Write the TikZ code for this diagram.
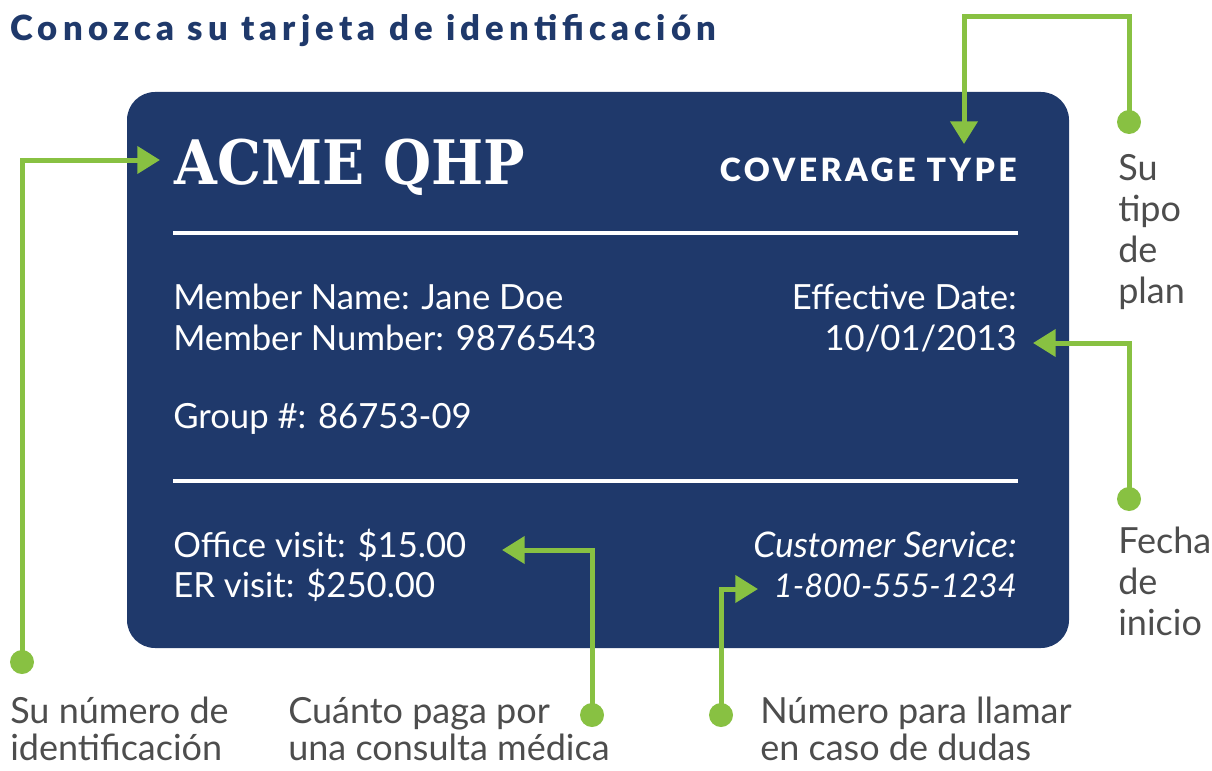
\documentclass[tikz,border=0pt]{standalone}
\usepackage{fontspec}
\setmainfont{Lato}
\newfontfamily\titlefont[LetterSpace=15]{Lato Black}
\newfontfamily\slabfont[FakeStretch=0.9]{DejaVu Serif}
\newfontfamily\capsfont[LetterSpace=11]{Lato Black}
\usetikzlibrary{arrows.meta}

\definecolor{cardblue}{RGB}{31,57,107}
\definecolor{pingreen}{RGB}{136,193,66}
\definecolor{notegray}{RGB}{77,77,77}

\tikzset{
  cardtext/.style={text=white, inner sep=0pt, font=\fontsize{26}{31}\selectfont},
  notetext/.style={text=notegray, inner sep=0pt, anchor=base west, align=left,
    font=\fontsize{27}{27.75}\selectfont},
  sidenote/.style={notetext, font=\fontsize{27}{30.75}\selectfont},
  pin/.style={circle, fill=pingreen, minimum size=18pt, inner sep=0pt},
  pointer/.style={draw=pingreen, line width=3.75pt,
    -{Triangle[length=17pt 0 0, width=20pt 0 0]}},
  rule/.style={draw=white, line width=3pt},
}

\begin{document}
\begin{tikzpicture}[x=0.75pt,y=0.75pt,yscale=-1,xscale=1]
\useasboundingbox (0,0) rectangle (1212,770);

% Title
\node (title) [anchor=base west, inner sep=0pt, text=cardblue,
  font=\titlefont\fontsize{26}{30}\selectfont] at (10,41) {Conozca su tarjeta de identificación};

% Card
\fill[cardblue, rounded corners=21pt] (127,92) rectangle (1069,648);
\draw[rule] (173,233) -- (1018,233);
\draw[rule] (173,481) -- (1018,481);

% Text Node
\node (plan) [cardtext, anchor=base west, font=\slabfont\bfseries\fontsize{46}{50}\selectfont] at (174,184) {ACME QHP};
% Text Node
\node (type) [cardtext, anchor=base east, font=\capsfont\fontsize{24}{28}\selectfont] at (1017,181) {COVERAGE TYPE};
% Text Node
\node (name) [cardtext, anchor=base west] at (173,309) {Member Name: Jane Doe};
% Text Node
\node (number) [cardtext, anchor=base west] at (173,350) {Member Number: 9876543};
% Text Node
\node (group) [cardtext, anchor=base west] at (173,428) {Group \#: 86753-09};
% Text Node
\node (eff) [cardtext, anchor=base east] at (1017,309) {Effective Date:};
% Text Node
\node (date) [cardtext, anchor=base east] at (1017,350) {10/01/2013};
% Text Node
\node (office) [cardtext, anchor=base west] at (173,557) {Office visit: \$15.00};
% Text Node
\node (er) [cardtext, anchor=base west] at (173,597) {ER visit: \$250.00};
% Text Node
\node (service) [cardtext, anchor=base east, font=\itshape\fontsize{26.5}{31}\selectfont] at (1017,557) {Customer Service:};
% Text Node
\node (phone) [cardtext, anchor=base east, font=\itshape\fontsize{24.5}{31}\selectfont] at (1017,597) {1-800-555-1234};

% Pins
\node (pinid) [pin] at (22,662) {};
\node (pintype) [pin] at (1129,122) {};
\node (pindate) [pin] at (1129,499) {};
\node (pincost) [pin] at (592,715) {};
\node (pincall) [pin] at (721,715) {};

% Notes (anchored at the last line)
\node (noteid) [notetext] at (10,760) {Su número de\\identificación};
\node (notetype) [sidenote] at (1118,303) {Su\\tipo\\de\\plan};
\node (notedate) [sidenote] at (1118,635) {Fecha\\de\\inicio};
\node (notecost) [notetext] at (288,760) {Cuánto paga por\\una consulta médica};
\node (notecall) [notetext] at (760,760) {Número para llamar\\en caso de dudas};

% Arrows
\coordinate (toplan) at (160,160);
\coordinate (totype) at (964,144);
\coordinate (todate) at (1033,343);
\coordinate (tocost) at (502,550);
\coordinate (tocall) at (758,589);
\coordinate (bend) at (964,17);
\draw[pointer] (pinid.center) |- (toplan);
\draw[pointer] (pintype.center) |- (bend) -- (totype);
\draw[pointer] (pindate.center) |- (todate);
\draw[pointer] (pincost.center) |- (tocost);
\draw[pointer] (pincall.center) |- (tocall);
\end{tikzpicture}
\end{document}
